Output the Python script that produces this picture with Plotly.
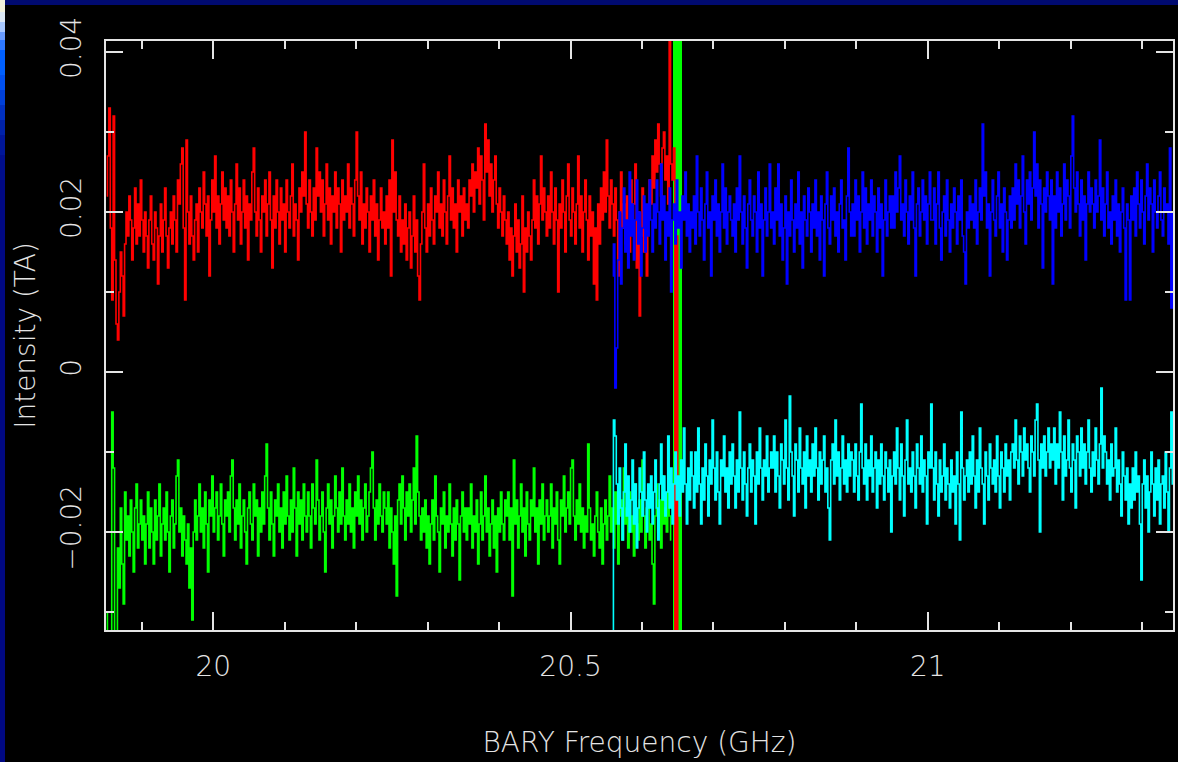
import numpy as np
import plotly.graph_objects as go

# ---------------- data (intensity in mK) ----------------
band1_start_ghz = 19.851   # first channel, lower band (red / green)
band2_start_ghz = 20.559   # first channel, upper band (blue / cyan)
chan_step_ghz = 0.002

red_mK = [
    22, 27, 33, 18, 9, 32, 14, 6, 4, 10, 15, 12, 7, 16, 20, 17, 22, 19, 14, 18, 23, 16, 21, 17, 24, 19, 15, 20,
    17, 13, 19, 22, 16, 14, 20, 18, 11, 17, 21, 15, 19, 23, 17, 13, 18, 20, 16, 22, 19, 15, 24, 21, 26, 28, 18, 9,
    29, 20, 16, 22, 17, 14, 19, 21, 15, 23, 20, 18, 25, 21, 17, 22, 12, 19, 24, 20, 27, 18, 22, 16, 21, 25, 19, 23,
    18, 22, 17, 24, 20, 15, 21, 26, 19, 23, 16, 20, 24, 18, 22, 14, 21, 19, 25, 28, 20, 17, 23, 19, 15, 22, 20, 24,
    17, 21, 25, 19, 13, 22, 18, 24, 20, 16, 23, 19, 21, 15, 24, 20, 18, 22, 26, 17, 21, 19, 14, 23, 20, 25, 22, 30,
    21, 18, 24, 20, 17, 23, 19, 28, 22, 25, 20, 24, 17, 21, 26, 19, 23, 16, 22, 20, 25, 18, 23, 21, 15, 24, 19, 22,
    20, 26, 18, 23, 21, 17, 24, 30, 22, 19, 25, 16, 21, 18, 23, 20, 15, 22, 19, 24, 17, 21, 14, 19, 23, 18, 20, 16,
    22, 18, 24, 12, 29, 20, 25, 19, 17, 22, 15, 19, 16, 21, 14, 18, 20, 13, 17, 22, 15, 19, 12, 9, 16, 20, 26, 18,
    15, 21, 17, 23, 19, 16, 22, 20, 25, 18, 21, 17, 24, 20, 16, 22, 27, 19, 23, 18, 21, 15, 24, 20, 22, 17, 23, 19,
    21, 18, 24, 22, 26, 20, 25, 23, 28, 21, 27, 24, 19, 31, 25, 29, 22, 26, 20, 24, 27, 21, 18, 23, 20, 17, 22, 19,
    16, 20, 14, 18, 12, 17, 21, 15, 19, 13, 16, 22, 10, 18, 15, 20, 17, 14, 19, 24, 18, 22, 16, 21, 27, 19, 23, 20,
    17, 22, 18, 25, 20, 16, 23, 19, 10, 21, 18, 24, 20, 15, 22, 26, 19, 17, 23, 20, 16, 21, 27, 18, 22, 15, 20, 24,
    19, 14, 22, 17, 20, 11, 18, 9, 21, 16, 23, 19, 25, 20, 29, 22, 18, 24, 21, 17, 23, 19, 12, 20, 25, 18, 21, 16,
    22, 19, 15, 24, 18, 21, 26, 13, 20, 7, 17, 23, 15, 20, 12, 19, 24, 21, 27, 23, 29, 25, 31, 26, 22, 28, 30, 24,
    27, 21, 95, 26, 24, 28, -90, 17, -90]

green_mK = [
    -30, -38, -40, -33, -5, -12, -38, -40, -22, -27, -17, -24, -29, -15, -21, -18, -23, -16, -20, -25, -17, -14, -22, -19, -16, -21, -18, -24,
    -19, -15, -22, -17, -20, -24, -16, -21, -18, -14, -23, -19, -17, -21, -15, -20, -25, -18, -16, -22, -19, -13, -11, -20, -17, -23, -18, -21,
    -24, -19, -27, -22, -31, -20, -16, -21, -18, -14, -20, -17, -22, -15, -19, -25, -16, -18, -13, -20, -17, -15, -21, -18, -14, -19, -23, -16,
    -18, -15, -20, -13, -11, -17, -21, -16, -19, -14, -22, -18, -16, -20, -24, -17, -15, -19, -21, -14, -18, -16, -23, -17, -20, -15, -19, -13,
    -9, -17, -21, -15, -19, -23, -16, -18, -14, -20, -17, -22, -15, -19, -13, -18, -21, -16, -20, -12, -17, -23, -15, -19, -16, -21, -14, -18,
    -20, -15, -18, -22, -14, -17, -19, -11, -16, -21, -18, -15, -20, -25, -17, -14, -19, -16, -22, -18, -13, -17, -20, -15, -19, -12, -18, -21,
    -16, -19, -14, -20, -17, -22, -15, -18, -13, -19, -16, -21, -17, -14, -20, -18, -15, -12, -10, -17, -21, -16, -19, -14, -18, -20, -15, -17,
    -19, -15, -22, -17, -20, -24, -18, -28, -16, -14, -19, -13, -17, -21, -15, -18, -14, -20, -16, -12, -19, -8, -15, -18, -21, -17, -20, -16,
    -22, -18, -24, -19, -16, -21, -13, -18, -20, -25, -17, -19, -15, -22, -18, -20, -14, -19, -23, -17, -21, -16, -19, -26, -18, -15, -20, -17,
    -21, -17, -19, -14, -22, -18, -20, -16, -24, -19, -15, -21, -18, -13, -20, -17, -23, -19, -16, -22, -18, -25, -17, -20, -15, -19, -21, -16,
    -18, -15, -21, -17, -28, -11, -19, -16, -22, -18, -14, -20, -17, -23, -15, -19, -21, -16, -18, -12, -20, -17, -24, -16, -19, -14, -21, -18,
    -16, -20, -18, -14, -22, -17, -19, -15, -21, -24, -16, -18, -13, -20, -17, -15, -19, -12, -11, -18, -21, -16, -19, -14, -20, -17, -22, -18,
    -20, -9, -17, -21, -19, -23, -18, -15, -20, -22, -17, -24, -19, -16, -21, -18, -13, -20, -17, -22, -15, -19, -24, -18, -16, -21, -12, -19,
    -17, -22, -15, -20, -18, -23, -14, -19, -21, -16, -20, -11, -18, -22, -17, -15, -21, -19, -24, -29, -18, -14, -20, -16, -22, -13, -19, -17,
    -20, -15, -18, -21]

# off-scale (flagged) channels of the green spectrum
green_flag_ghz = [20.646, 20.650, 20.654]
flag_low_mK, flag_high_mK = -100, 100

blue_mK = [
    12, 16, -2, 3, 14, 20, 11, 18, 23, 15, 19, 13, 25, 17, 21, 14, 19, 24, 16, 20, 12, 18, 22, 15, 21, 17, 24, 19,
    15, 21, 18, 24, 20, 16, 26, 19, 22, 14, 20, 17, 23, 10, 19, 21, 16, 24, 18, 20, 13, 22, 19, 25, 17, 21, 15, 20,
    18, 22, 16, 27, 20, 17, 23, 19, 14, 21, 25, 18, 20, 12, 22, 19, 24, 17, 21, 15, 20, 26, 18, 23, 16, 20, 22, 19,
    17, 21, 15, 23, 19, 27, 20, 16, 22, 18, 13, 21, 24, 19, 17, 22, 20, 15, 25, 18, 21, 12, 19, 23, 17, 20, 26, 18,
    20, 16, 23, 19, 26, 17, 21, 14, 18, 22, 11, 20, 17, 24, 19, 15, 21, 18, 25, 16, 20, 13, 22, 19, 17, 23, 20, 15,
    21, 18, 24, 17, 20, 14, 22, 19, 12, 21, 25, 18, 16, 22, 19, 23, 17, 20, 15, 21, 24, 18, 19, 14, 22, 28, 20, 17,
    21, 17, 24, 19, 22, 15, 20, 25, 18, 23, 16, 21, 19, 24, 17, 22, 20, 15, 23, 18, 21, 12, 19, 24, 17, 20, 22, 18,
    22, 18, 25, 20, 23, 27, 19, 21, 17, 24, 20, 16, 22, 19, 25, 18, 12, 21, 23, 17, 20, 24, 19, 22, 16, 21, 25, 19,
    19, 23, 16, 21, 25, 18, 14, 20, 22, 17, 24, 19, 15, 21, 18, 23, 20, 16, 22, 19, 24, 17, 15, 11, 20, 18, 22, 19,
    21, 18, 24, 16, 20, 23, 19, 31, 22, 25, 18, 21, 12, 20, 24, 19, 17, 22, 25, 18, 21, 15, 23, 20, 14, 19, 22, 18,
    23, 19, 26, 21, 24, 18, 22, 27, 20, 16, 24, 21, 25, 19, 23, 30, 22, 26, 18, 24, 21, 13, 23, 20, 25, 22, 19, 24,
    11, 22, 18, 25, 20, 23, 17, 21, 26, 19, 24, 22, 18, 27, 32, 23, 20, 25, 21, 17, 24, 19, 22, 14, 21, 25, 20, 23,
    21, 18, 24, 20, 22, 29, 19, 23, 17, 21, 25, 18, 20, 16, 22, 19, 24, 17, 21, 15, 20, 23, 18, 9, 21, 19, 9, 22,
    19, 23, 17, 25, 21, 18, 24, 20, 16, 22, 26, 19, 23, 21, 15, 24, 20, 18, 22, 25, 19, 17, 23, 20, 21, 16, 28, 8,
    20]

cyan_mK = [
    -45, -6, -8, -14, -19, -12, -17, -21, -15, -9, -18, -13, -20, -16, -11, -19, -14, -22, -17, -12, -15, -18, -10, -16, -20, -14, -17, -13,
    -19, -15, -11, -17, -21, -14, -9, -16, -13, -18, -15, -8, -17, -12, -19, -14, -10, -16, -13, -18, -11, -15, -7, -14, -19, -12, -16, -10,
    -13, -17, -10, -15, -7, -14, -19, -12, -16, -9, -13, -18, -11, -14, -6, -12, -16, -10, -15, -19, -11, -13, -8, -15, -12, -17, -10, -14,
    -9, -13, -17, -11, -15, -5, -12, -16, -10, -14, -18, -12, -9, -15, -11, -13, -19, -10, -14, -7, -12, -16, -11, -13, -8, -15, -12, -10,
    -12, -8, -15, -10, -13, -17, -9, -11, -14, -6, -12, -16, -3, -10, -13, -18, -9, -11, -15, -7, -12, -14, -10, -17, -8, -13, -11, -15,
    -9, -13, -7, -12, -16, -10, -14, -11, -8, -15, -12, -17, -21, -11, -9, -14, -6, -13, -10, -16, -12, -8, -14, -11, -15, -9, -13, -10,
    -11, -15, -9, -13, -16, -10, -4, -12, -14, -9, -16, -11, -13, -8, -15, -12, -10, -17, -11, -14, -9, -13, -16, -10, -12, -15, -11, -20,
    -13, -10, -14, -7, -12, -16, -9, -13, -18, -11, -6, -14, -12, -15, -10, -13, -17, -9, -12, -14, -8, -15, -11, -13, -19, -10, -12, -4,
    -12, -16, -10, -14, -18, -11, -15, -13, -9, -16, -12, -14, -17, -11, -15, -13, -19, -10, -14, -21, -5, -12, -16, -13, -11, -15, -10, -14,
    -8, -13, -17, -11, -15, -7, -12, -14, -19, -10, -13, -16, -9, -12, -14, -11, -15, -8, -13, -17, -10, -12, -15, -9, -13, -11, -16, -10,
    -9, -12, -6, -11, -14, -8, -10, -13, -7, -11, -9, -12, -15, -8, -10, -13, -6, -4, -11, -20, -9, -12, -8, -13, -10, -7, -12, -9,
    -11, -7, -14, -9, -12, -5, -10, -16, -8, -13, -11, -6, -12, -15, -9, -11, -17, -8, -10, -13, -7, -12, -9, -14, -10, -6, -12, -15,
    -10, -13, -7, -11, -14, -9, -2, -12, -8, -10, -14, -11, -16, -9, -13, -12, -7, -15, -11, -14, -18, -10, -13, -16, -12, -19, -14, -17,
    -12, -16, -10, -15, -13, -19, -26, -14, -11, -17, -13, -20, -15, -10, -14, -18, -12, -16, -11, -19, -14, -13, -17, -10, -15, -20, -12, -5,
    -14]

x_range = [19.850, 21.343]
y_range = [-0.03225, 0.04138]

# ---------------- build ----------------
def chan_axis(start, n):
    return start + chan_step_ghz * np.arange(n)

def to_K(v):
    return np.asarray(v, dtype=float) / 1000.0

WHITE = "#e4e4e4"
FONT = dict(family="DejaVu Sans, Liberation Sans, sans-serif", size=28, color=WHITE, weight=200)

fig = go.Figure()

fig.add_trace(go.Bar(
    x=green_flag_ghz, y=to_K([flag_high_mK - flag_low_mK] * len(green_flag_ghz)),
    base=to_K([flag_low_mK] * len(green_flag_ghz)), width=0.004,
    marker=dict(color="#00ff00", line=dict(width=0)), showlegend=False, hoverinfo="skip"))

series = [
    (band1_start_ghz, red_mK, "#ff0000"),
    (band1_start_ghz, green_mK, "#00ff00"),
    (band2_start_ghz, blue_mK, "#0000ff"),
    (band2_start_ghz, cyan_mK, "#00ffff"),
]
for start, vals, col in series:
    fig.add_trace(go.Scatter(
        x=chan_axis(start, len(vals)), y=to_K(vals), mode="lines",
        line=dict(color=col, width=1.6, shape="hvh"), showlegend=False))

axis_common = dict(
    showline=True, linecolor=WHITE, linewidth=2, mirror="allticks",
    ticks="inside", tickcolor=WHITE, tickwidth=2,
    showgrid=False, zeroline=False, tickfont=FONT,
)

fig.update_xaxes(
    range=x_range, tickmode="linear", tick0=20, dtick=0.5, ticklen=18,
    minor=dict(tickmode="linear", tick0=20, dtick=0.1, ticks="inside", ticklen=8,
               tickcolor=WHITE, tickwidth=2, showgrid=False),
    title=dict(text="BARY Frequency (GHz)", font=FONT, standoff=51),
    ticklabelstandoff=10,
    **axis_common)

fig.update_yaxes(
    range=y_range, tickmode="linear", tick0=0, dtick=0.02, ticklen=17,
    tickangle=-90,
    minor=dict(tickmode="linear", tick0=0, dtick=0.01, ticks="inside", ticklen=8,
               tickcolor=WHITE, tickwidth=2, showgrid=False),
    title=dict(text="Intensity (TA)", font=FONT, standoff=11),
    ticklabelstandoff=12,
    **axis_common)

# slide frame: navy strip on top, gradient strip on the left
L, R, T, B = 106, 1173, 41, 630
W, H = R - L, B - T
def px(xp):
    return (xp - L) / W
def py(yp):
    return (B - yp) / H

shapes = [dict(type="rect", xref="paper", yref="paper", x0=px(0), x1=px(1178),
               y0=py(5), y1=py(0), fillcolor="#000a70", line=dict(width=0))]
grad = [(0, 12, "#f2f2dc"), (12, 22, "#dce8f4"), (22, 32, "#a8c8ff"), (32, 40, "#6a9cff"),
        (40, 50, "#2e78ff"), (50, 75, "#0060ff"), (75, 90, "#0050f0"), (90, 105, "#0040d8"),
        (105, 120, "#0030c0"), (120, 135, "#0022a8"), (135, 155, "#001698"),
        (155, 180, "#000e8c"), (180, 762, "#000882")]
for y0p, y1p, c in grad:
    shapes.append(dict(type="rect", xref="paper", yref="paper", x0=px(0), x1=px(5),
                       y0=py(y1p), y1=py(y0p), fillcolor=c, line=dict(width=0)))

fig.update_layout(
    width=1178, height=762, autosize=False,
    margin=dict(l=L, r=1178 - R, t=T, b=762 - B, pad=0),
    paper_bgcolor="#000000", plot_bgcolor="#000000",
    shapes=shapes, bargap=0, font=FONT,
)
fig.update_xaxes(automargin=False)
fig.update_yaxes(automargin=False)

fig.write_html("out.html", config={"displayModeBar": False})

# remove the browser's default page margin so the figure sits at (0, 0)
with open("out.html", "r", encoding="utf-8") as fh:
    html = fh.read()
html = html.replace("<body>", '<body style="margin:0;padding:0;background:#000000;overflow:hidden">', 1)
with open("out.html", "w", encoding="utf-8") as fh:
    fh.write(html)
